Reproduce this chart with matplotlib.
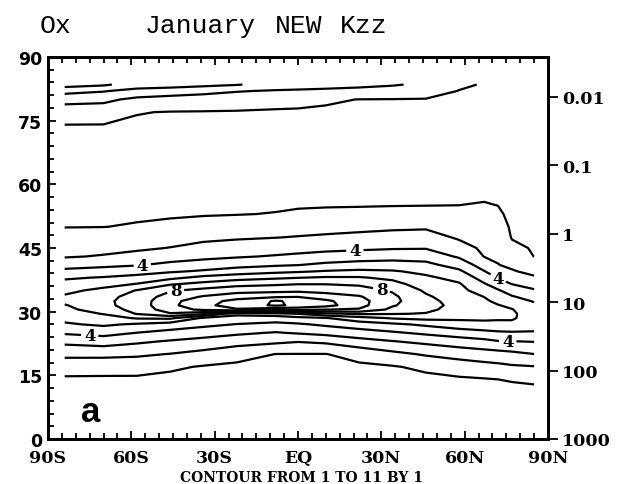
import matplotlib
matplotlib.use("Agg")
import matplotlib.pyplot as plt
import numpy as np
from matplotlib.ticker import MultipleLocator, NullLocator

# model columns (deg latitude, south negative) and levels (km)
lats = [-84, -70, -58, -46, -34, -22, -8, 0, 10, 22, 34, 46, 58, 67, 72, 77, 85]
alts = [10, 14, 17, 20, 23, 25, 27, 28.5, 29.5, 30.5, 31.5, 32.5, 33.5, 35, 36.5,
        38, 39.5, 41, 43, 45, 47.5, 50, 53, 56, 62, 68, 74, 77, 80, 82, 83.5]

# January Ox (ppmv), one profile per latitude column, bottom to top
ox_84s = [0.4, 0.85, 1.43, 2.23, 3.26, 4.12, 4.88, 5.27, 5.49, 5.71, 5.93, 6.28, 6.15, 5.71, 5.32,
          4.88, 4.25, 3.61, 2.92, 2.63, 2.28, 1.98, 1.86, 1.74, 1.5, 1.75, 1.99, 2.54, 3.29, 4.36, 5.4]
ox_70s = [0.4, 0.84, 1.40, 2.24, 3.46, 4.33, 5.15, 5.6, 6.05, 6.55, 6.75, 6.78, 6.7, 6.3, 5.6,
          5.07, 4.41, 3.79, 3.07, 2.74, 2.37, 1.99, 1.88, 1.75, 1.5, 1.74, 1.98, 2.49, 3.21, 4.07, 5.15]
ox_58s = [0.4, 0.84, 1.38, 2.16, 3.17, 3.98, 4.87, 6.1, 7.05, 7.3, 7.45, 7.45, 7.35, 7.05, 6.05,
          5.30, 4.62, 3.94, 3.31, 2.84, 2.45, 2.06, 1.89, 1.76, 1.5, 1.70, 1.90, 2.03, 2.79, 3.67, 4.55]
ox_46s = [0.4, 0.77, 1.14, 1.97, 2.91, 3.71, 4.52, 6.2, 7.9, 8.55, 8.75, 8.7, 8.45, 7.9, 6.9,
          5.75, 4.87, 4.22, 3.58, 3.03, 2.59, 2.17, 1.91, 1.77, 1.5, 1.69, 1.88, 1.97, 2.63, 3.5, 4.45]
ox_34s = [0.4, 0.70, 0.93, 1.69, 2.68, 3.42, 4.24, 4.84, 7.2, 9.2, 9.75, 9.6, 9.1, 8.3, 7.3,
          6.3, 5.13, 4.43, 3.77, 3.30, 2.78, 2.33, 1.94, 1.79, 1.5, 1.68, 1.87, 1.96, 2.52, 3.31, 4.25]
ox_22s = [0.4, 0.66, 0.85, 1.28, 2.43, 3.16, 3.96, 4.61, 5.25, 9.9, 10.45, 10.3, 9.6, 8.6, 7.7,
          6.6, 5.47, 4.67, 3.91, 3.44, 2.89, 2.45, 1.97, 1.82, 1.5, 1.68, 1.86, 1.95, 2.39, 3.07, 4.05]
ox_08s = [0.4, 0.64, 0.82, 0.99, 2.19, 2.93, 3.75, 4.53, 5.5, 9.33, 11.15, 11.1, 9.9, 8.68, 7.87,
          6.85, 5.75, 4.88, 4.08, 3.57, 2.98, 2.55, 2.03, 1.84, 1.5, 1.67, 1.85, 1.93, 2.23, 2.9, 3.7]
ox_eq = [0.4, 0.63, 0.81, 0.98, 2.05, 3.08, 3.88, 4.71, 6.02, 9.33, 10.8, 10.75, 9.98, 8.75, 7.98,
         6.98, 5.88, 4.98, 4.2, 3.64, 3.05, 2.61, 2.10, 1.86, 1.5, 1.67, 1.84, 1.93, 2.17, 2.83, 3.6]
ox_10n = [0.4, 0.63, 0.81, 0.98, 2.19, 3.29, 4.16, 4.95, 6.75, 9.02, 10.35, 10.2, 9.5, 8.65, 7.98,
          7.12, 6.07, 5.22, 4.36, 3.74, 3.14, 2.67, 2.14, 1.87, 1.5, 1.67, 1.84, 1.92, 2.07, 2.73, 3.5]
ox_22n = [0.4, 0.66, 0.85, 1.29, 2.65, 3.57, 4.5, 5.63, 7.13, 8.9, 9.35, 9.35, 9.1, 8.45, 7.85,
          7.1, 6.19, 5.4, 4.5, 3.82, 3.25, 2.74, 2.17, 1.87, 1.5, 1.66, 1.83, 1.91, 1.99, 2.64, 3.3]
ox_34n = [0.4, 0.70, 0.93, 1.74, 2.96, 3.86, 4.81, 6.1, 7.05, 7.75, 8.1, 8.25, 8.2, 7.9, 7.35,
          6.77, 6.09, 5.43, 4.62, 3.91, 3.36, 2.82, 2.2, 1.88, 1.5, 1.66, 1.82, 1.90, 1.98, 2.52, 3.1]
ox_46n = [0.4, 0.78, 1.18, 2.11, 3.24, 4.18, 5.17, 6.28, 6.95, 7.2, 7.35, 7.3, 7.15, 6.85, 6.48,
          6.17, 5.77, 5.27, 4.59, 3.94, 3.40, 2.87, 2.23, 1.88, 1.5, 1.66, 1.81, 1.89, 1.97, 2.3, 2.8]
ox_58n = [0.4, 0.86, 1.49, 2.37, 3.55, 4.48, 5.57, 6.2, 6.42, 6.65, 6.7, 6.58, 6.45, 6.27, 6.09,
          5.71, 5.18, 4.6, 3.88, 3.38, 2.88, 2.57, 2.2, 1.91, 1.5, 1.65, 1.79, 1.86, 1.94, 1.98, 2.12]
ox_67n = [0.4, 0.93, 1.66, 2.55, 3.76, 4.68, 5.76, 6.16, 6.3, 6.45, 6.3, 6.15, 5.99, 5.55, 5.09,
          4.57, 4.04, 3.56, 2.98, 2.83, 2.64, 2.45, 2.22, 1.99, 1.66, 1.63, 1.76, 1.82, 1.88, 1.92, 1.95]
ox_72n = [0.4, 0.99, 1.75, 2.63, 3.95, 4.83, 5.76, 6.12, 6.24, 6.18, 6.04, 5.8, 5.51, 5.09, 4.52,
          3.94, 3.48, 3.03, 2.86, 2.71, 2.53, 2.35, 2.13, 1.93, 1.63, 1.65, 1.74, 1.78, 1.83, 1.86, 1.88]
ox_77n = [0.4, 1.1, 1.87, 2.76, 3.98, 4.87, 5.85, 6.08, 6.1, 6.04, 5.8, 5.39, 5.09, 4.56, 3.99,
          3.55, 3.09, 2.81, 2.48, 2.16, 1.96, 1.89, 1.8, 1.71, 1.62, 1.68, 1.74, 1.77, 1.8, 1.82, 1.83]
ox_85n = [0.4, 1.24, 1.95, 2.99, 4.04, 4.91, 5.38, 5.69, 5.68, 5.44, 5.19, 4.93, 4.6, 4.1, 3.61,
          3.13, 2.73, 2.35, 1.99, 1.94, 1.89, 1.83, 1.76, 1.69, 1.61, 1.65, 1.7, 1.73, 1.76, 1.78, 1.8]

levels = list(range(1, 12))          # CONTOUR FROM 1 TO 11 BY 1
labelled = [4, 8]
lat_ticks = [-90, -60, -30, 0, 30, 60, 90]
lat_labels = ['90S', '60S', '30S', 'EQ', '30N', '60N', '90N']
p_ticks = [1000, 100, 10, 1, 0.1, 0.01]
p_labels = ['1000', '100', '10', '1', '0.1', '0.01']
scale_height = 7.0

ox = np.column_stack([ox_84s, ox_70s, ox_58s, ox_46s, ox_34s, ox_22s, ox_08s, ox_eq, ox_10n,
                      ox_22n, ox_34n, ox_46n, ox_58n, ox_67n, ox_72n, ox_77n, ox_85n])

serif_b = dict(family='DejaVu Serif', weight='bold')

fig = plt.figure(figsize=(6.21, 4.85), dpi=100)
ax = fig.add_axes([48 / 621, 1 - 440 / 485, 500 / 621, 382 / 485])

line_kw = dict(colors='k', linewidths=1.6, linestyles='solid')
ax.contour(lats, alts, ox, levels=[v for v in levels if v not in labelled], **line_kw)
# labelled levels get their own set so clabel only looks at 4 and 8
cs = ax.contour(lats, alts, ox, levels=labelled, **line_kw)
spots = [(-56, 40.6), (20.5, 44.2), (72, 37.8), (-75, 24.2), (75.5, 22.9),
         (-44, 34.6), (30, 35.0)]
cl = cs.clabel(manual=spots, inline=True, inline_spacing=4, fmt='%d', fontsize=12)
for t in cl:
    t.set_rotation(0)
    t.set_family('DejaVu Serif')
    t.set_weight('bold')

ax.set_xlim(-90, 90)
ax.set_ylim(0, 90)
ax.set_xticks(lat_ticks)
ax.set_xticklabels(lat_labels, fontsize=12.5, **serif_b)
ax.xaxis.set_minor_locator(MultipleLocator(5))
ax.set_yticks(range(0, 91, 15))
ax.set_yticklabels([str(v) for v in range(0, 91, 15)], family='DejaVu Sans',
                   weight='bold', fontsize=12.5)
ax.yaxis.set_minor_locator(MultipleLocator(3))
ax.tick_params(which='both', direction='in', top=True, right=True, width=1.3)
ax.tick_params(which='major', length=6)
ax.tick_params(which='minor', length=4)
ax.tick_params(axis='x', which='major', pad=7)
ax.tick_params(axis='y', which='major', pad=4)
for s in ax.spines.values():
    s.set_linewidth(2)

ax2 = ax.twinx()
ax2.set_ylim(0, 90)
ax2.set_yticks([scale_height * np.log(1000 / p) for p in p_ticks])
ax2.set_yticklabels(p_labels, fontsize=12.5, **serif_b)
ax2.yaxis.set_minor_locator(NullLocator())
ax2.tick_params(axis='y', direction='out', length=7, width=1.3, pad=3)
for s in ax2.spines.values():
    s.set_linewidth(2)

ax.text(-78, 4.3, 'a', family='Liberation Sans', weight='bold', fontsize=25)

title_y = 1 - 33 / 485
for word, px in [('Ox', 40), ('January', 145), ('NEW', 275), ('Kzz', 340)]:
    fig.text(px / 621, title_y, word, family='Liberation Mono', fontsize=19,
             va='baseline', ha='left')
fig.text(301 / 621, 1 - 482 / 485, 'CONTOUR FROM 1 TO 11 BY 1', ha='center',
         va='baseline', fontsize=10, **serif_b)

fig.savefig('out.png', dpi=100)
